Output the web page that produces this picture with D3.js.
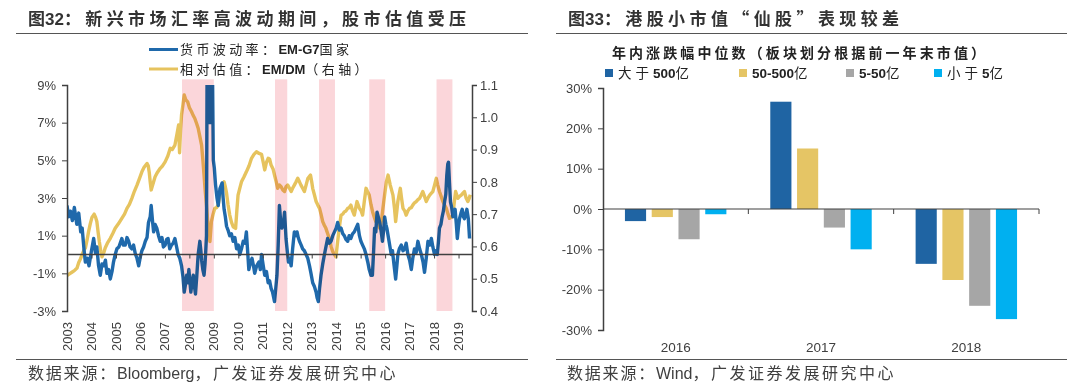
<!DOCTYPE html>
<html lang="zh">
<head>
<meta charset="UTF-8">
<title>汇率波动与港股小市值</title>
<script src="https://d3js.org/d3.v7.min.js"></script>
<style>
    body { margin: 0; background: #fff; }
    svg { font-family: "Liberation Sans", "Noto Sans CJK SC", sans-serif; }
    .axis path, .axis line { stroke: #404040; }
    .axis text { fill: #404040; font-size: 13px; }
    .cjk { letter-spacing: 3.4px; }
</style>
</head>
<body>
<svg id="chart" width="1080" height="390"></svg>
<script>
// ---- left chart data (decimal year, value) ----
const fxVolYears = [2003.00,2003.07,2003.14,2003.22,2003.30,2003.40,2003.48,2003.56,2003.62,2003.70,2003.75,2003.83,2003.90,2004.00,2004.09,2004.16,2004.22,2004.29,2004.36,2004.43,2004.50,2004.57,2004.63,2004.70,2004.77,2004.84,2004.90,2004.97,2005.04,2005.12,2005.24,2005.30,2005.38,2005.45,2005.52,2005.58,2005.65,2005.72,2005.79,2005.86,2005.93,2006.00,2006.06,2006.13,2006.20,2006.27,2006.33,2006.40,2006.44,2006.50,2006.54,2006.60,2006.67,2006.74,2006.81,2006.88,2006.94,2007.01,2007.07,2007.13,2007.20,2007.27,2007.34,2007.41,2007.48,2007.54,2007.61,2007.68,2007.74,2007.79,2007.84,2007.89,2007.94,2007.98,2008.02,2008.06,2008.11,2008.16,2008.21,2008.25,2008.30,2008.36,2008.43,2008.47,2008.50,2008.55,2008.60,2008.64,2008.67,2008.70,2008.73,2008.78,2008.83,2008.88,2008.93,2008.98,2009.02,2009.07,2009.13,2009.18,2009.25,2009.34,2009.38,2009.42,2009.47,2009.52,2009.58,2009.65,2009.72,2009.79,2009.86,2009.93,2010.00,2010.06,2010.13,2010.20,2010.27,2010.33,2010.38,2010.43,2010.50,2010.56,2010.62,2010.67,2010.75,2010.84,2010.90,2010.95,2011.02,2011.08,2011.15,2011.22,2011.28,2011.34,2011.40,2011.48,2011.53,2011.58,2011.63,2011.68,2011.73,2011.78,2011.84,2011.89,2011.95,2012.00,2012.05,2012.10,2012.16,2012.22,2012.29,2012.34,2012.40,2012.45,2012.50,2012.57,2012.63,2012.70,2012.77,2012.84,2012.91,2012.97,2013.04,2013.11,2013.18,2013.22,2013.27,2013.32,2013.38,2013.45,2013.52,2013.58,2013.65,2013.72,2013.79,2013.86,2013.93,2014.00,2014.06,2014.13,2014.20,2014.27,2014.33,2014.40,2014.47,2014.53,2014.60,2014.67,2014.74,2014.81,2014.88,2014.95,2015.01,2015.08,2015.15,2015.22,2015.29,2015.35,2015.42,2015.48,2015.53,2015.57,2015.62,2015.67,2015.72,2015.78,2015.84,2015.89,2015.94,2015.98,2016.03,2016.07,2016.16,2016.25,2016.30,2016.35,2016.43,2016.48,2016.52,2016.58,2016.66,2016.73,2016.80,2016.86,2016.93,2017.00,2017.07,2017.13,2017.20,2017.27,2017.34,2017.41,2017.48,2017.55,2017.61,2017.68,2017.75,2017.82,2017.89,2017.95,2018.02,2018.08,2018.13,2018.18,2018.22,2018.28,2018.33,2018.38,2018.43,2018.48,2018.52,2018.56,2018.59,2018.63,2018.67,2018.72,2018.77,2018.82,2018.86,2018.91,2018.95,2019.00,2019.04,2019.10,2019.15,2019.20,2019.24,2019.29,2019.34,2019.40,2019.45];
const fxVolValues = [2.6,2.0,2.3,1.8,2.5,1.6,2.2,1.2,1.4,0.2,-0.4,-0.2,-0.6,0.2,0.85,0.1,0.4,-0.6,-1.1,-0.5,-0.6,-0.3,-1.0,-0.8,-1.3,-0.9,-0.4,0.0,0.3,0.4,0.85,0.5,0.5,0.9,0.7,0.4,0.3,0.5,0.05,-0.2,-0.6,-0.1,0.2,0.4,0.7,0.9,1.7,2.0,2.6,1.7,1.2,1.6,1.4,1.0,0.7,0.9,0.4,0.5,0.8,0.85,0.3,0.5,0.6,0.85,0.4,0.0,-0.2,-0.6,-1.2,-2.0,-1.6,-1.1,-1.5,-0.8,-1.4,-2.0,-1.5,-1.1,-1.7,-2.1,-1.2,0.0,0.7,0.2,-0.3,-0.8,-1.1,-0.5,0.2,1.0,12,7,12,7,12,5.0,4.6,3.7,3.0,2.6,3.5,3.8,3.0,2.4,2.0,1.5,1.3,1.0,1.1,0.7,0.9,0.3,0.5,0.0,0.3,0.7,0.6,1.2,0.2,-0.8,-0.4,-0.2,-0.6,-1.0,-0.6,-0.4,-0.8,0.0,-0.6,-1.1,-0.9,-1.5,-1.4,-1.8,-2.0,-2.5,-1.8,-1.1,0.5,2.6,1.8,1.4,1.6,2.25,0.85,0.2,-0.4,-0.2,-0.6,0.3,1.2,1.0,1.2,0.9,0.7,0.5,0.3,0.2,0.0,-0.2,-0.6,-1.0,-1.5,-1.7,-2.0,-2.3,-2.5,-1.8,-1.1,-0.5,0.0,0.4,0.85,0.6,0.7,1.0,1.2,1.4,1.7,1.3,1.4,1.1,1.0,0.8,0.7,1.0,0.85,1.1,1.2,1.4,1.6,1.0,0.7,0.5,0.3,0.0,-0.4,-0.8,-1.1,-1.1,0.2,1.4,1.2,2.25,2.0,1.7,1.2,0.7,1.3,2.0,1.6,1.4,0.7,0.0,0.2,-0.4,-1.3,-0.6,0.0,0.3,0.5,0.2,0.3,0.6,0.0,-0.3,-0.8,-0.2,0.3,0.1,0.7,0.3,0.0,-0.4,-0.95,-0.2,0.7,0.5,0.85,0.4,0.0,0.2,0.0,0.7,1.4,1.6,2.0,2.3,2.8,3.2,4.2,4.8,4.9,3.8,2.8,2.5,2.0,2.2,2.4,1.6,0.85,1.5,1.9,2.2,2.4,2.0,1.9,2.1,2.4,1.9,0.85];

const valuationYears = [2003.00,2003.10,2003.20,2003.30,2003.41,2003.48,2003.54,2003.62,2003.70,2003.75,2003.82,2003.88,2003.95,2004.02,2004.11,2004.17,2004.22,2004.27,2004.32,2004.38,2004.43,2004.50,2004.56,2004.65,2004.77,2004.87,2004.97,2005.10,2005.24,2005.35,2005.45,2005.55,2005.65,2005.75,2005.86,2005.96,2006.06,2006.15,2006.27,2006.32,2006.36,2006.40,2006.44,2006.50,2006.60,2006.70,2006.81,2006.91,2007.01,2007.12,2007.22,2007.30,2007.41,2007.50,2007.56,2007.60,2007.64,2007.68,2007.74,2007.79,2007.85,2007.93,2008.00,2008.09,2008.16,2008.22,2008.30,2008.36,2008.43,2008.50,2008.55,2008.60,2008.65,2008.70,2008.77,2008.84,2008.90,2008.97,2009.04,2009.11,2009.18,2009.25,2009.31,2009.42,2009.47,2009.52,2009.58,2009.65,2009.72,2009.79,2009.89,2009.94,2009.99,2010.06,2010.13,2010.23,2010.33,2010.44,2010.54,2010.64,2010.74,2010.85,2010.95,2011.02,2011.08,2011.15,2011.22,2011.28,2011.34,2011.42,2011.48,2011.55,2011.61,2011.68,2011.75,2011.82,2011.89,2011.95,2012.02,2012.09,2012.16,2012.22,2012.29,2012.36,2012.43,2012.50,2012.56,2012.63,2012.70,2012.77,2012.84,2012.95,2013.00,2013.04,2013.11,2013.18,2013.25,2013.32,2013.38,2013.45,2013.52,2013.58,2013.65,2013.72,2013.79,2013.86,2013.93,2013.99,2014.06,2014.13,2014.20,2014.27,2014.33,2014.40,2014.47,2014.53,2014.60,2014.67,2014.74,2014.80,2014.85,2014.95,2015.02,2015.08,2015.15,2015.22,2015.28,2015.35,2015.42,2015.49,2015.56,2015.62,2015.70,2015.78,2015.85,2015.91,2015.98,2016.05,2016.12,2016.21,2016.32,2016.38,2016.43,2016.48,2016.52,2016.57,2016.62,2016.67,2016.73,2016.80,2016.86,2016.93,2017.00,2017.07,2017.13,2017.20,2017.27,2017.34,2017.41,2017.48,2017.54,2017.61,2017.68,2017.75,2017.82,2017.89,2017.95,2018.02,2018.09,2018.15,2018.22,2018.29,2018.36,2018.43,2018.50,2018.57,2018.63,2018.70,2018.77,2018.83,2018.88,2018.97,2019.04,2019.11,2019.18,2019.24,2019.31,2019.38,2019.44,2019.48];
const valuationValues = [0.51,0.515,0.52,0.525,0.533,0.55,0.56,0.575,0.59,0.595,0.62,0.645,0.67,0.69,0.70,0.69,0.677,0.645,0.615,0.585,0.568,0.58,0.595,0.61,0.625,0.64,0.656,0.67,0.687,0.70,0.718,0.73,0.749,0.77,0.79,0.81,0.831,0.845,0.857,0.85,0.83,0.80,0.775,0.79,0.816,0.83,0.842,0.85,0.862,0.88,0.904,0.90,0.914,0.95,0.976,0.89,0.96,1.007,1.04,1.069,1.055,1.048,1.03,1.017,1.005,0.997,0.98,0.966,0.94,0.914,0.87,0.821,0.77,0.728,0.656,0.615,0.677,0.70,0.718,0.72,0.73,0.76,0.78,0.80,0.785,0.765,0.73,0.697,0.675,0.661,0.656,0.71,0.759,0.78,0.80,0.815,0.831,0.85,0.873,0.885,0.893,0.888,0.885,0.86,0.837,0.86,0.873,0.87,0.852,0.84,0.821,0.80,0.78,0.79,0.785,0.775,0.77,0.785,0.79,0.78,0.77,0.78,0.79,0.80,0.811,0.80,0.79,0.78,0.77,0.79,0.81,0.821,0.80,0.78,0.76,0.739,0.728,0.718,0.70,0.677,0.665,0.656,0.64,0.625,0.60,0.584,0.575,0.568,0.615,0.66,0.697,0.70,0.707,0.71,0.718,0.72,0.728,0.71,0.697,0.72,0.739,0.718,0.71,0.697,0.74,0.78,0.77,0.759,0.73,0.707,0.69,0.677,0.67,0.656,0.68,0.718,0.76,0.80,0.821,0.79,0.759,0.72,0.677,0.71,0.739,0.76,0.78,0.75,0.718,0.71,0.697,0.71,0.718,0.72,0.728,0.735,0.739,0.745,0.749,0.76,0.77,0.755,0.739,0.75,0.759,0.765,0.77,0.79,0.811,0.79,0.77,0.755,0.739,0.728,0.718,0.70,0.687,0.69,0.697,0.74,0.77,0.749,0.755,0.759,0.765,0.77,0.75,0.739,0.75,0.76];

// shaded high-volatility periods
const bandStarts = [2007.7, 2011.5, 2013.3, 2015.35, 2018.1];
const bandEnds   = [2009.0, 2012.0, 2013.95, 2016.0, 2018.75];

const leftTicks = [-3, -1, 1, 3, 5, 7, 9];
const rightTicks = [0.4, 0.5, 0.6, 0.7, 0.8, 0.9, 1.0, 1.1];
const yearTicks = d3.range(2003, 2020);

// ---- right chart data ----
const years = ["2016", "2017", "2018"];
const sizeGroups = ["大于500亿", "50-500亿", "5-50亿", "小于5亿"];
const medianChange = {
    "大于500亿": [-3.0, 26.6, -13.6],
    "50-500亿": [-2.0, 15.0, -17.6],
    "5-50亿":   [-7.5, -4.6, -24.0],
    "小于5亿":  [-1.3, -10.0, -27.3]
};
const barTicks = [-30, -20, -10, 0, 10, 20, 30];

const svg = d3.select("#chart");

// ---------- headers / footers ----------
function header(x0, x1, tx, num, rest, spacing) {
    const t = svg.append("text").attr("x", tx).attr("y", 25)
        .attr("fill", "#333").attr("font-size", 17).attr("font-weight", "bold");
    t.append("tspan").attr("font-family", "Noto Sans CJK SC").text("图");
    t.append("tspan").text(num);
    t.append("tspan").attr("font-family", "Noto Sans CJK SC").attr("letter-spacing", spacing).text(rest);
    svg.append("line").attr("x1", x0).attr("x2", x1).attr("y1", 33.5).attr("y2", 33.5)
        .attr("stroke", "#555").attr("stroke-width", 1);
    svg.append("line").attr("x1", x0).attr("x2", x1).attr("y1", 359.5).attr("y2", 359.5)
        .attr("stroke", "#555").attr("stroke-width", 1);
}
function footer(x, src) {
    const t = svg.append("text").attr("x", x).attr("y", 379)
        .attr("fill", "#404040").attr("font-size", 16);
    t.append("tspan").attr("font-family", "Noto Sans CJK SC").attr("letter-spacing", 1.8).text("数据来源：");
    t.append("tspan").text(src);
    t.append("tspan").attr("font-family", "Noto Sans CJK SC").attr("letter-spacing", 2.5).text("，广发证券发展研究中心");
}
header(16, 528, 28, "32", "：新兴市场汇率高波动期间，股市估值受压", 4.4);
header(556, 1067, 568, "33", "：港股小市值“仙股”表现较差", 4.4);
footer(28, "Bloomberg");
footer(567, "Wind");

// ---------- left chart ----------
const x = d3.scaleLinear().domain([2003, 2019.55]).range([67, 472]);
const yL = d3.scaleLinear().domain([-3, 9]).range([311, 85]);
const yR = d3.scaleLinear().domain([0.4, 1.1]).range([311, 85]);

svg.append("clipPath").attr("id", "plotClip")
    .append("rect").attr("x", 67).attr("y", 85).attr("width", 405).attr("height", 226);

const fxVol = fxVolYears.map((t, i) => [t, fxVolValues[i]]);
const valuation = valuationYears.map((t, i) => [t, valuationValues[i]]);

const lines = svg.append("g").attr("clip-path", "url(#plotClip)");
lines.append("path").datum(valuation)
    .attr("fill", "none").attr("stroke", "#e6c35e").attr("stroke-width", 3.4)
    .attr("stroke-linejoin", "round")
    .attr("d", d3.line().x(d => x(d[0])).y(d => yR(d[1])));
lines.append("path").datum(fxVol)
    .attr("fill", "none").attr("stroke", "#1f69ab").attr("stroke-width", 3.4)
    .attr("stroke-linejoin", "round")
    .attr("d", d3.line().x(d => x(d[0])).y(d => yL(d[1])));

// pink bands sit on top, multiplied into the lines
svg.append("g").selectAll("rect")
    .data(bandStarts.map((s, i) => [s, bandEnds[i]]))
    .join("rect")
    .attr("x", d => x(d[0]))
    .attr("width", d => x(d[1]) - x(d[0]))
    .attr("y", yL(9.3))
    .attr("height", yL(-3) - yL(9.3))
    .attr("fill", "#fbd6da")
    .style("mix-blend-mode", "multiply");

// zero line with yearly ticks
const zero = svg.append("g").attr("class", "axis").attr("transform", `translate(0,${yL(0)})`)
    .call(d3.axisBottom(x).tickValues(yearTicks).tickSize(4).tickFormat(""));
zero.select(".domain").attr("d", `M${x.range()[0]},0H${x.range()[1]}`).attr("stroke", "#333");

svg.append("g").attr("class", "axis").attr("transform", "translate(67,0)")
    .call(d3.axisLeft(yL).tickValues(leftTicks).tickSize(5).tickPadding(6).tickFormat(d => d + "%"))
    .call(g => g.selectAll("text").attr("font-size", 13.5));
svg.append("g").attr("class", "axis").attr("transform", "translate(472,0)")
    .call(d3.axisRight(yR).tickValues(rightTicks).tickSize(5).tickPadding(3).tickFormat(d3.format(".1f")))
    .call(g => g.selectAll("text").attr("font-size", 13.5));
d3.selectAll(".axis .domain").attr("stroke-width", 1.5);

// rotated year labels
svg.append("g").selectAll("text")
    .data(yearTicks).join("text")
    .attr("transform", d => `translate(${x(d)},322) rotate(-90)`)
    .attr("text-anchor", "end").attr("dy", "0.35em")
    .attr("font-size", 13).attr("fill", "#404040")
    .text(d => d);

// legend
const legL = [
    {color: "#1f69ab", cn: "货币波动率：", en: "EM-G7", tail: "国家", y: 49.5},
    {color: "#e6c35e", cn: "相对估值：", en: "EM/DM", tail: "（右轴）", y: 69}
];
legL.forEach(d => {
    svg.append("line").attr("x1", 149).attr("x2", 178).attr("y1", d.y).attr("y2", d.y)
        .attr("stroke", d.color).attr("stroke-width", 3);
    const t = svg.append("text").attr("x", 180).attr("y", d.y + 4.5)
        .attr("font-size", 13).attr("fill", "#222");
    t.append("tspan").attr("class", "cjk").attr("font-family", "Noto Sans CJK SC").text(d.cn);
    t.append("tspan").attr("font-weight", "bold").text(d.en);
    t.append("tspan").attr("class", "cjk").attr("font-family", "Noto Sans CJK SC").text(d.tail);
});

// ---------- right chart ----------
const xG = d3.scaleBand().domain(years).range([603, 1039]);
const xS = d3.scaleBand().domain(sizeGroups).range([0, xG.bandwidth()])
    .paddingInner(0.21).paddingOuter(0.82);
const yB = d3.scaleLinear().domain([-30, 30]).range([330, 88]);
const barColor = d3.scaleOrdinal().domain(sizeGroups)
    .range(["#1f64a3", "#e5c565", "#a6a6a6", "#00b0f0"]);

svg.append("text").attr("x", 800).attr("y", 58).attr("text-anchor", "middle")
    .attr("font-family", "Noto Sans CJK SC").attr("font-size", 14).attr("font-weight", "bold")
    .attr("letter-spacing", 3.1).attr("fill", "#222")
    .text("年内涨跌幅中位数（板块划分根据前一年末市值）");

const legX = [605, 739, 846, 934];
sizeGroups.forEach((k, i) => {
    svg.append("rect").attr("x", legX[i]).attr("y", 69).attr("width", 8).attr("height", 8)
        .attr("fill", barColor(k));
    const t = svg.append("text").attr("x", legX[i] + 13).attr("y", 78)
        .attr("font-size", 13.5).attr("fill", "#222").attr("font-weight", "bold");
    k.split(/(\d[\d-]*)/).filter(s => s).forEach(s => {
        const sp = t.append("tspan").text(s);
        if (!/\d/.test(s)) sp.attr("font-family", "Noto Sans CJK SC").attr("font-weight", "normal").attr("letter-spacing", 4);
    });
});

const groups = svg.append("g").selectAll("g")
    .data(years).join("g")
    .attr("transform", d => `translate(${xG(d)},0)`);
groups.selectAll("rect")
    .data((yr, j) => sizeGroups.map(k => ({k, v: medianChange[k][j]})))
    .join("rect")
    .attr("x", d => xS(d.k))
    .attr("width", xS.bandwidth())
    .attr("y", d => yB(Math.max(0, d.v)))
    .attr("height", d => Math.abs(yB(d.v) - yB(0)))
    .attr("fill", d => barColor(d.k));

svg.append("g").attr("class", "axis").attr("transform", "translate(603,0)")
    .call(d3.axisLeft(yB).tickValues(barTicks).tickSize(5).tickPadding(6).tickFormat(d => d + "%"))
    .call(g => g.selectAll("text").attr("font-size", 14))
    .call(g => g.select(".domain").attr("stroke-width", 1.5));

const bx = svg.append("g").attr("class", "axis").attr("transform", `translate(0,${yB(0)})`);
bx.append("line").attr("x1", 603).attr("x2", 1039).attr("stroke", "#404040").attr("stroke-width", 1.2);
bx.selectAll(".tk").data(years).join("line").attr("class", "tk")
    .attr("x1", d => xG(d) + xG.bandwidth()).attr("x2", d => xG(d) + xG.bandwidth())
    .attr("y1", 0).attr("y2", 5).attr("stroke", "#404040");

svg.append("g").selectAll("text")
    .data(years).join("text")
    .attr("x", d => xG(d) + xG.bandwidth() / 2).attr("y", 352)
    .attr("text-anchor", "middle").attr("font-size", 13.5).attr("fill", "#404040")
    .text(d => d);
</script>
</body>
</html>
